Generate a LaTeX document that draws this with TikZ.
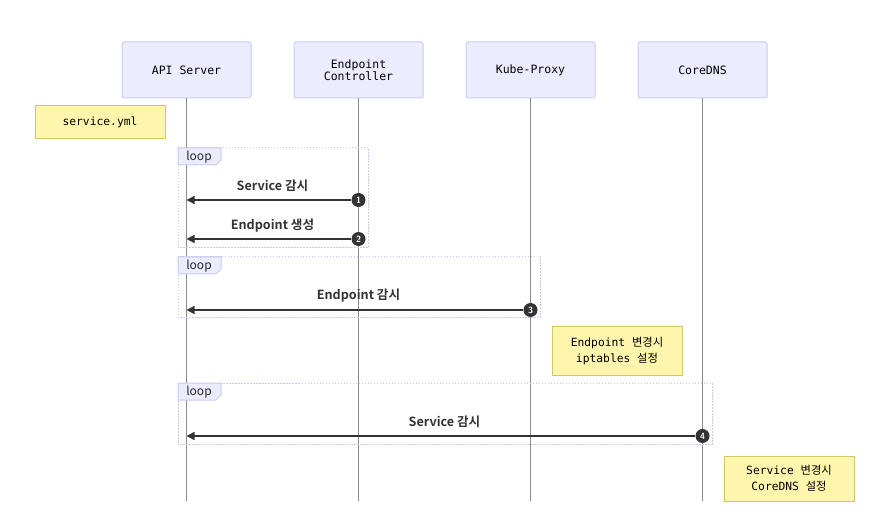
\documentclass[tikz,border=0pt]{standalone}
\usepackage{fontspec}
\setmainfont{DejaVu Sans}
\setmonofont{DejaVu Sans Mono}
\newfontfamily\kr{Noto Sans CJK KR}
\newfontfamily\krb{Noto Sans CJK KR Bold}
\usetikzlibrary{arrows.meta}
\definecolor{actfill}{HTML}{ECECFF}
\definecolor{actdraw}{HTML}{CCCCF5}
\definecolor{notefill}{HTML}{FFF5AD}
\definecolor{notedraw}{HTML}{D0C868}
\definecolor{lifecol}{HTML}{8A8A8A}
\definecolor{msgcol}{HTML}{333333}
\definecolor{loopcol}{HTML}{C8C8F0}
\begin{document}
\begin{tikzpicture}[x=1pt,y=-1pt,
  actor/.style={draw=actdraw,fill=actfill,line width=1pt,rounded corners=2pt,
    minimum width=129pt,minimum height=56pt,align=center,text=black,
    font=\fontsize{11.5}{12.5}\selectfont\ttfamily,inner sep=0pt},
  notebox/.style={draw=notedraw,fill=notefill,line width=1pt,align=center,text=black,
    font=\fontsize{11.3}{15.5}\selectfont\ttfamily,inner sep=0pt},
  life/.style={draw=lifecol,line width=1.5pt},
  msg/.style={draw=msgcol,line width=1.5pt,-{Triangle[length=8pt,width=8pt]}},
  num/.style={circle,fill=msgcol,text=white,minimum size=14pt,inner sep=0pt,
    font=\fontsize{9}{9}\selectfont\bfseries\sffamily},
  mlabel/.style={font=\fontsize{12.6}{12.6}\selectfont\krb,text=msgcol},
  loopbox/.style={draw=loopcol,line width=1pt,dash pattern=on 1.5pt off 1.5pt},
  looptab/.style={fill=actfill,draw=loopcol,line width=1pt},
  looplabel/.style={font=\fontsize{12}{12}\selectfont\kr,text=black!85}
]
\useasboundingbox (0,0) rectangle (881,521);
% lifelines
\coordinate (apib) at (186.5,501);
\coordinate (ecb) at (358.5,501);
\coordinate (kpb) at (530.5,501);
\coordinate (cdb) at (702.5,501);
\node[actor] (api) at (186.5,70) {API Server};
\node[actor] (ec) at (358.5,70) {Endpoint\\Controller};
\node[actor] (kp) at (530.5,70) {Kube-Proxy};
\node[actor] (cd) at (702.5,70) {CoreDNS};
\draw[life] (api.south) -- (apib);
\draw[life] (ec.south) -- (ecb);
\draw[life] (kp.south) -- (kpb);
\draw[life] (cd.south) -- (cdb);
% note service.yml
\node[notebox,minimum width=130pt,minimum height=33pt] (n0) at (100,122.5) {service.yml};
% loop 1
\draw[loopbox] (178,148) rectangle (368,248);
\draw[looptab] (178,148) -- (221,148) -- (221,160) -- (216,165) -- (178,165) -- cycle;
\node[looplabel] (l1) at (199,157) {loop};
\coordinate (t1) at (186.5,200);
\node[num] (c1) at (358.5,200) {1};
\draw[msg] (c1) -- (t1);
\node[mlabel] (m1) at (272.5,186) {Service 감시};
\coordinate (t2) at (186.5,239);
\node[num] (c2) at (358.5,239) {2};
\draw[msg] (c2) -- (t2);
\node[mlabel] (m2) at (272.5,226) {Endpoint 생성};
% loop 2
\draw[loopbox] (178,257) rectangle (540,318);
\draw[looptab] (178,257) -- (221,257) -- (221,269) -- (216,274) -- (178,274) -- cycle;
\node[looplabel] (l2) at (199,266) {loop};
\coordinate (t3) at (186.5,310);
\node[num] (c3) at (530.5,310) {3};
\draw[msg] (c3) -- (t3);
\node[mlabel] (m3) at (358.5,296) {Endpoint 감시};
% note 2
\node[notebox,minimum width=130pt,minimum height=48pt] (n1) at (617,351) {Endpoint {\kr 변경시}\\iptables {\kr 설정}};
% loop 3
\draw[loopbox] (178,383) rectangle (712,444);
\draw[looptab] (178,383) -- (221,383) -- (221,395) -- (216,400) -- (178,400) -- cycle;
\node[looplabel] (l3) at (199,392) {loop};
\coordinate (t4) at (186.5,436);
\node[num] (c4) at (702.5,436) {4};
\draw[msg] (c4) -- (t4);
\node[mlabel] (m4) at (444.5,422) {Service 감시};
% note 3
\node[notebox,minimum width=130pt,minimum height=45pt] (n2) at (789,478.5) {Service {\kr 변경시}\\CoreDNS {\kr 설정}};
\end{tikzpicture}
\end{document}
